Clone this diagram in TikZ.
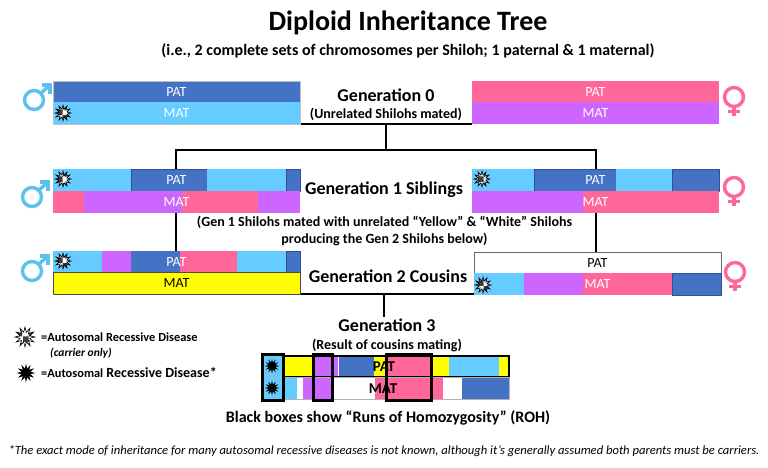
\documentclass[tikz,border=0pt]{standalone}
\usepackage{fontspec}
\setmainfont{Carlito}
\usetikzlibrary{shapes.geometric,patterns}
\definecolor{dblue}{HTML}{4472C4}
\definecolor{lblue}{HTML}{66CCFF}
\definecolor{pinkc}{HTML}{FF6699}
\definecolor{purp}{HTML}{CC66FF}
\definecolor{yel}{HTML}{FFFF00}
\definecolor{malec}{HTML}{5BC2F0}
\definecolor{outl}{HTML}{2F528F}
\newcommand\seg[5]{\fill[#5] (#1,#3) rectangle (#2,#4);}
\newcommand\segd[5]{\filldraw[fill=#5,draw=outl,line width=0.8] (#1,#3) rectangle (#2,#4);}
\newcommand\malesym[1]{\begin{scope}[shift={(#1)}]
  \draw[malec,line width=3.4] (0,0) circle (9.5);
  \draw[malec,line width=3.4] (6.7,-6.7) -- (16,-15);
  \draw[malec,line width=3.4] (7.5,-15) -- (16,-15) -- (16,-6.5);
  \end{scope}}
\newcommand\femsym[1]{\begin{scope}[shift={(#1)}]
  \draw[pinkc,line width=3.4] (0,0) circle (9.5);
  \draw[pinkc,line width=3.4] (0,10) -- (0,19);
  \draw[pinkc,line width=3.4] (-6,14.5) -- (6,14.5);
  \end{scope}}
\tikzset{
  conn/.style={line width=2.2,black},
  pm/.style={text=white,font=\fontsize{14}{14}\selectfont,inner sep=0},
  pmk/.style={text=black,font=\fontsize{14}{14}\selectfont,inner sep=0},
  gen/.style={font=\bfseries\fontsize{18}{18}\selectfont,inner sep=0},
  sub/.style={font=\bfseries\fontsize{14}{14}\selectfont,inner sep=0},
  spike/.style={star,star points=12,star point ratio=2.1,minimum size=15,inner sep=0,fill=black},
  carrierstar/.style={star,star points=12,star point ratio=2.0,minimum size=15,inner sep=0,draw=black,line width=0.6,preaction={fill=white},pattern=checkerboard,pattern color=black!75},
  roh/.style={draw=black,line width=3},
}
\newcommand\carrier[3]{\node[carrierstar,minimum size=#3] (#1) at (#2) {};}
\begin{document}
\begin{tikzpicture}[x=1pt,y=-1pt]
\useasboundingbox (0,0) rectangle (768,467);
\fill[white] (0,0) rectangle (768,467);
% titles
\node[font=\bfseries\fontsize{28}{28}\selectfont,inner sep=0] (title) at (408,23) {Diploid Inheritance Tree};
\node[font=\bfseries\fontsize{16}{16}\selectfont,inner sep=0] (subtitle) at (408,51) {(i.e., 2 complete sets of chromosomes per Shiloh; 1 paternal \& 1 maternal)};
% connector coordinates
\coordinate (g0Lbr) at (300,124);
\coordinate (g0Rbl) at (472,124);
\coordinate (g0mid) at (386,124);
\coordinate (g0join) at (386,150);
\coordinate (g1Ltop) at (176,150);
\coordinate (g1Rtop) at (596,150);
\coordinate (g2Ltop) at (176,251);
\coordinate (g2Rtop) at (596,252);
\coordinate (g2Lbr) at (300,294);
\coordinate (g2Rbl) at (474,294);
\coordinate (g2mid) at (384,294);
\coordinate (g3top) at (384,317);
% connectors (behind bars)
\draw[conn] (g0Lbr) -- (g0Rbl);
\draw[conn] (g0mid) -- (g0join);
\draw[conn] (g2Ltop) -- (g1Ltop) -- (g1Rtop) -- (g2Rtop);
\draw[conn] (g2Lbr) -- (g2Rbl);
\draw[conn] (g2mid) -- (g3top);
% ---------- Generation 0
\seg{53}{300}{81}{102}{dblue}
\seg{53}{300}{102}{124}{lblue}
\draw[gray!50,line width=0.6] (53,81) rectangle (300,124);
\node[pm] (g0Lp) at (176.5,92) {PAT};
\node[pm] (g0Lm) at (176.5,113) {MAT};
\carrier{g0Ls}{63,113}{16}
\malesym{34,100}
\seg{472}{719}{81}{102}{pinkc}
\seg{472}{719}{102}{124}{purp}
\node[pm] (g0Rp) at (595.5,92) {PAT};
\node[pm] (g0Rm) at (595.5,113) {MAT};
\femsym{734,97}
\node[gen] (g0t) at (386,95) {Generation 0};
\node[sub] (g0s) at (386,114) {(Unrelated Shilohs mated)};
% ---------- Generation 1
\seg{53}{131}{169}{191}{lblue}
\segd{131}{207}{169}{191}{dblue}
\seg{207}{286}{169}{191}{lblue}
\segd{286}{300}{169}{191}{dblue}
\seg{53}{84}{191}{213}{pinkc}
\seg{84}{182}{191}{213}{purp}
\seg{182}{258}{191}{213}{pinkc}
\seg{258}{300}{191}{213}{purp}
\node[pm] (g1Lp) at (176.5,180) {PAT};
\node[pm] (g1Lm) at (176.5,202) {MAT};
\carrier{g1Ls}{63,179}{16}
\malesym{32,197}
\seg{472}{534}{169}{191}{lblue}
\segd{534}{616}{169}{191}{dblue}
\seg{616}{672}{169}{191}{lblue}
\segd{672}{719}{169}{191}{dblue}
\seg{472}{583}{191}{213}{purp}
\seg{583}{719}{191}{213}{pinkc}
\node[pm] (g1Rp) at (595.5,180) {PAT};
\node[pm] (g1Rm) at (595.5,202) {MAT};
\carrier{g1Rs}{482,179}{16}
\femsym{734,187}
\node[gen] (g1t) at (384,190) {Generation 1 Siblings};
\node[sub] (g1s1) at (384.5,222) {(Gen 1 Shilohs mated with unrelated “Yellow” \& “White” Shilohs};
\node[sub] (g1s2) at (384.5,239) {producing the Gen 2 Shilohs below)};
% ---------- Generation 2
\seg{53}{102}{251}{272}{lblue}
\seg{102}{131}{251}{272}{purp}
\seg{131}{180}{251}{272}{dblue}
\seg{180}{237}{251}{272}{pinkc}
\seg{237}{286}{251}{272}{lblue}
\segd{286}{300}{251}{272}{dblue}
\filldraw[fill=yel,draw=black!70,line width=0.8] (53,272) rectangle (300,294);
\node[pm] (g2Lp) at (176.5,262) {PAT};
\node[pmk] (g2Lm) at (176.5,283) {MAT};
\carrier{g2Ls}{63,261}{16}
\malesym{32,271}
\filldraw[fill=white,draw=black!60,line width=0.8] (474,252) rectangle (721,273);
\seg{474}{524}{273}{295}{lblue}
\seg{524}{583}{273}{295}{purp}
\seg{583}{672}{273}{295}{pinkc}
\segd{672}{721}{273}{295}{dblue}
\node[pmk] (g2Rp) at (597.5,263) {PAT};
\node[pm] (g2Rm) at (597.5,284) {MAT};
\carrier{g2Rs}{483,285}{16}
\femsym{735,272}
\node[gen] (g2t) at (388,276) {Generation 2 Cousins};
% ---------- Generation 3
\node[gen] (g3t) at (387,325) {Generation 3};
\node[sub] (g3s) at (387,345) {(Result of cousins mating)};
\seg{263}{283}{356}{377}{lblue}
\seg{283}{313}{356}{377}{yel}
\seg{313}{338}{356}{377}{purp}
\seg{339}{374}{356}{377}{dblue}
\seg{374}{385}{356}{377}{yel}
\seg{385}{430}{356}{377}{pinkc}
\seg{430}{449}{356}{377}{yel}
\seg{449}{499}{356}{377}{lblue}
\seg{499}{509}{356}{377}{yel}
\draw[black,line width=1.2] (283,356) rectangle (509,377);
\seg{263}{297}{377}{399}{lblue}
\seg{303}{333}{377}{399}{purp}
\seg{375}{443}{377}{399}{pinkc}
\seg{462}{509}{377}{399}{dblue}
\draw[gray!60,line width=0.6] (263,377) rectangle (509,399);
\node[font=\bfseries\fontsize{15}{15}\selectfont,inner sep=0] (g3p) at (384,367) {PAT};
\node[font=\bfseries\fontsize{15}{15}\selectfont,inner sep=0] (g3m) at (383,389) {MAT};
\node[spike,minimum size=15] (g3a) at (272,366) {};
\node[spike,minimum size=15] (g3b) at (272,388) {};
\draw[roh] (262,354) rectangle (283,400);
\draw[roh] (313,354) rectangle (332,400);
\draw[roh] (386,354) rectangle (431,400);
\node[font=\bfseries\fontsize{16}{16}\selectfont,inner sep=0] (roh) at (388,418) {Black boxes show “Runs of Homozygosity” (ROH)};
% ---------- legend
\carrier{lg1}{25,337}{20}
\node[anchor=west,inner sep=0,font=\bfseries\fontsize{12.4}{12.4}\selectfont] (lgt1) at (41,337) {=Autosomal Recessive Disease};
\node[anchor=west,inner sep=0,font=\bfseries\itshape\fontsize{11.5}{11.5}\selectfont] (lgt1b) at (50,353) {(carrier only)};
\node[spike,minimum size=19] (lg2) at (26,373) {};
\node[anchor=west,inner sep=0,font=\bfseries\fontsize{12.4}{12.4}\selectfont] (lgt2) at (41,373) {=Autosomal\fontsize{14}{14}\selectfont{} Recessive Disease*};
% footnote
\node[font=\itshape\fontsize{12.6}{12.6}\selectfont,inner sep=0] (foot) at (384,451) {*The exact mode of inheritance for many autosomal recessive diseases is not known, although it’s generally assumed both parents must be carriers.};
\end{tikzpicture}
\end{document}
